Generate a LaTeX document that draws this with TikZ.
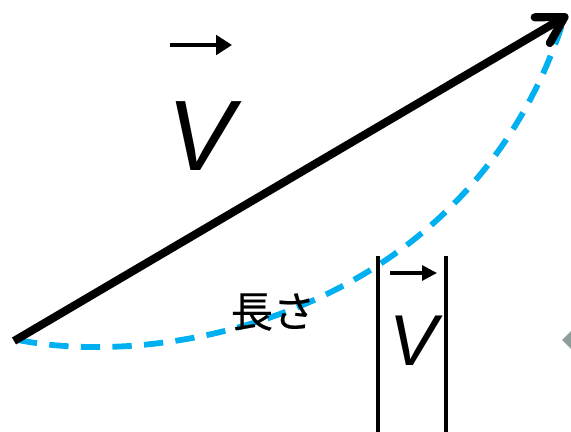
\documentclass[tikz,border=0pt]{standalone}
\usepackage{fontspec}
\usepackage{xcolor}
\usepackage{tikz}
\usetikzlibrary{arrows.meta,positioning}
\newfontfamily\vecfont{Liberation Sans}
\newfontfamily\jpfont[FakeBold=0.5]{Noto Sans CJK JP}
\definecolor{pathblue}{HTML}{00B0F0}
\definecolor{markgray}{HTML}{8E9E9A}

\begin{document}
\begin{tikzpicture}[
    x=0.02cm, y=-0.02cm,
    vec/.style={line width=4.6pt, -{Straight Barb[angle=60:17pt, round]}},
    route/.style={pathblue, line width=3.3pt, dash pattern=on 11pt off 7pt},
    over/.style={line width=2pt, -{Triangle[length=9pt, width=11pt]}},
    oversmall/.style={line width=1.8pt, -{Triangle[length=8.5pt, width=8.5pt]}},
    bar/.style={line width=2pt},
    biglabel/.style={inner sep=0pt, font=\vecfont\itshape\fontsize{57}{57}\selectfont},
    smalllabel/.style={inner sep=0pt, font=\vecfont\itshape\fontsize{41}{41}\selectfont},
    jplabel/.style={inner sep=0pt, font=\jpfont\fontsize{24}{24}\selectfont}
]
\useasboundingbox (0,0) rectangle (571,432);
\clip (0,0) rectangle (571,432);

\coordinate (start) at (14,341);
\coordinate (tip) at (568,15);
\coordinate (curvestart) at (18,340);
\coordinate (curveend) at (564,19);

\draw[route] (curvestart) .. controls (170,370) and (470,312) .. (curveend);
\draw[vec] (start) -- (tip);

\node[biglabel] (vbig) at (201,136) {V};
\coordinate (bigtail) at (170,45);
\coordinate (bighead) at (232,45);
\draw[over] (bigtail) -- (bighead);

\node[jplabel] (length) at (273,312) {長さ};

\node[smalllabel] (vsmall) at (414,341) {V};
\coordinate (smalltail) at (390,273);
\coordinate (smallhead) at (437,273);
\draw[oversmall] (smalltail) -- (smallhead);

\coordinate (lefttop) at (378,256);
\coordinate (leftbot) at (378,432);
\coordinate (righttop) at (446,256);
\coordinate (rightbot) at (446,432);
\draw[bar] (lefttop) -- (leftbot);
\draw[bar] (righttop) -- (rightbot);

\fill[markgray] (562,340) -- (573,329) -- (584,340) -- (573,351) -- cycle;
\end{tikzpicture}
\end{document}
